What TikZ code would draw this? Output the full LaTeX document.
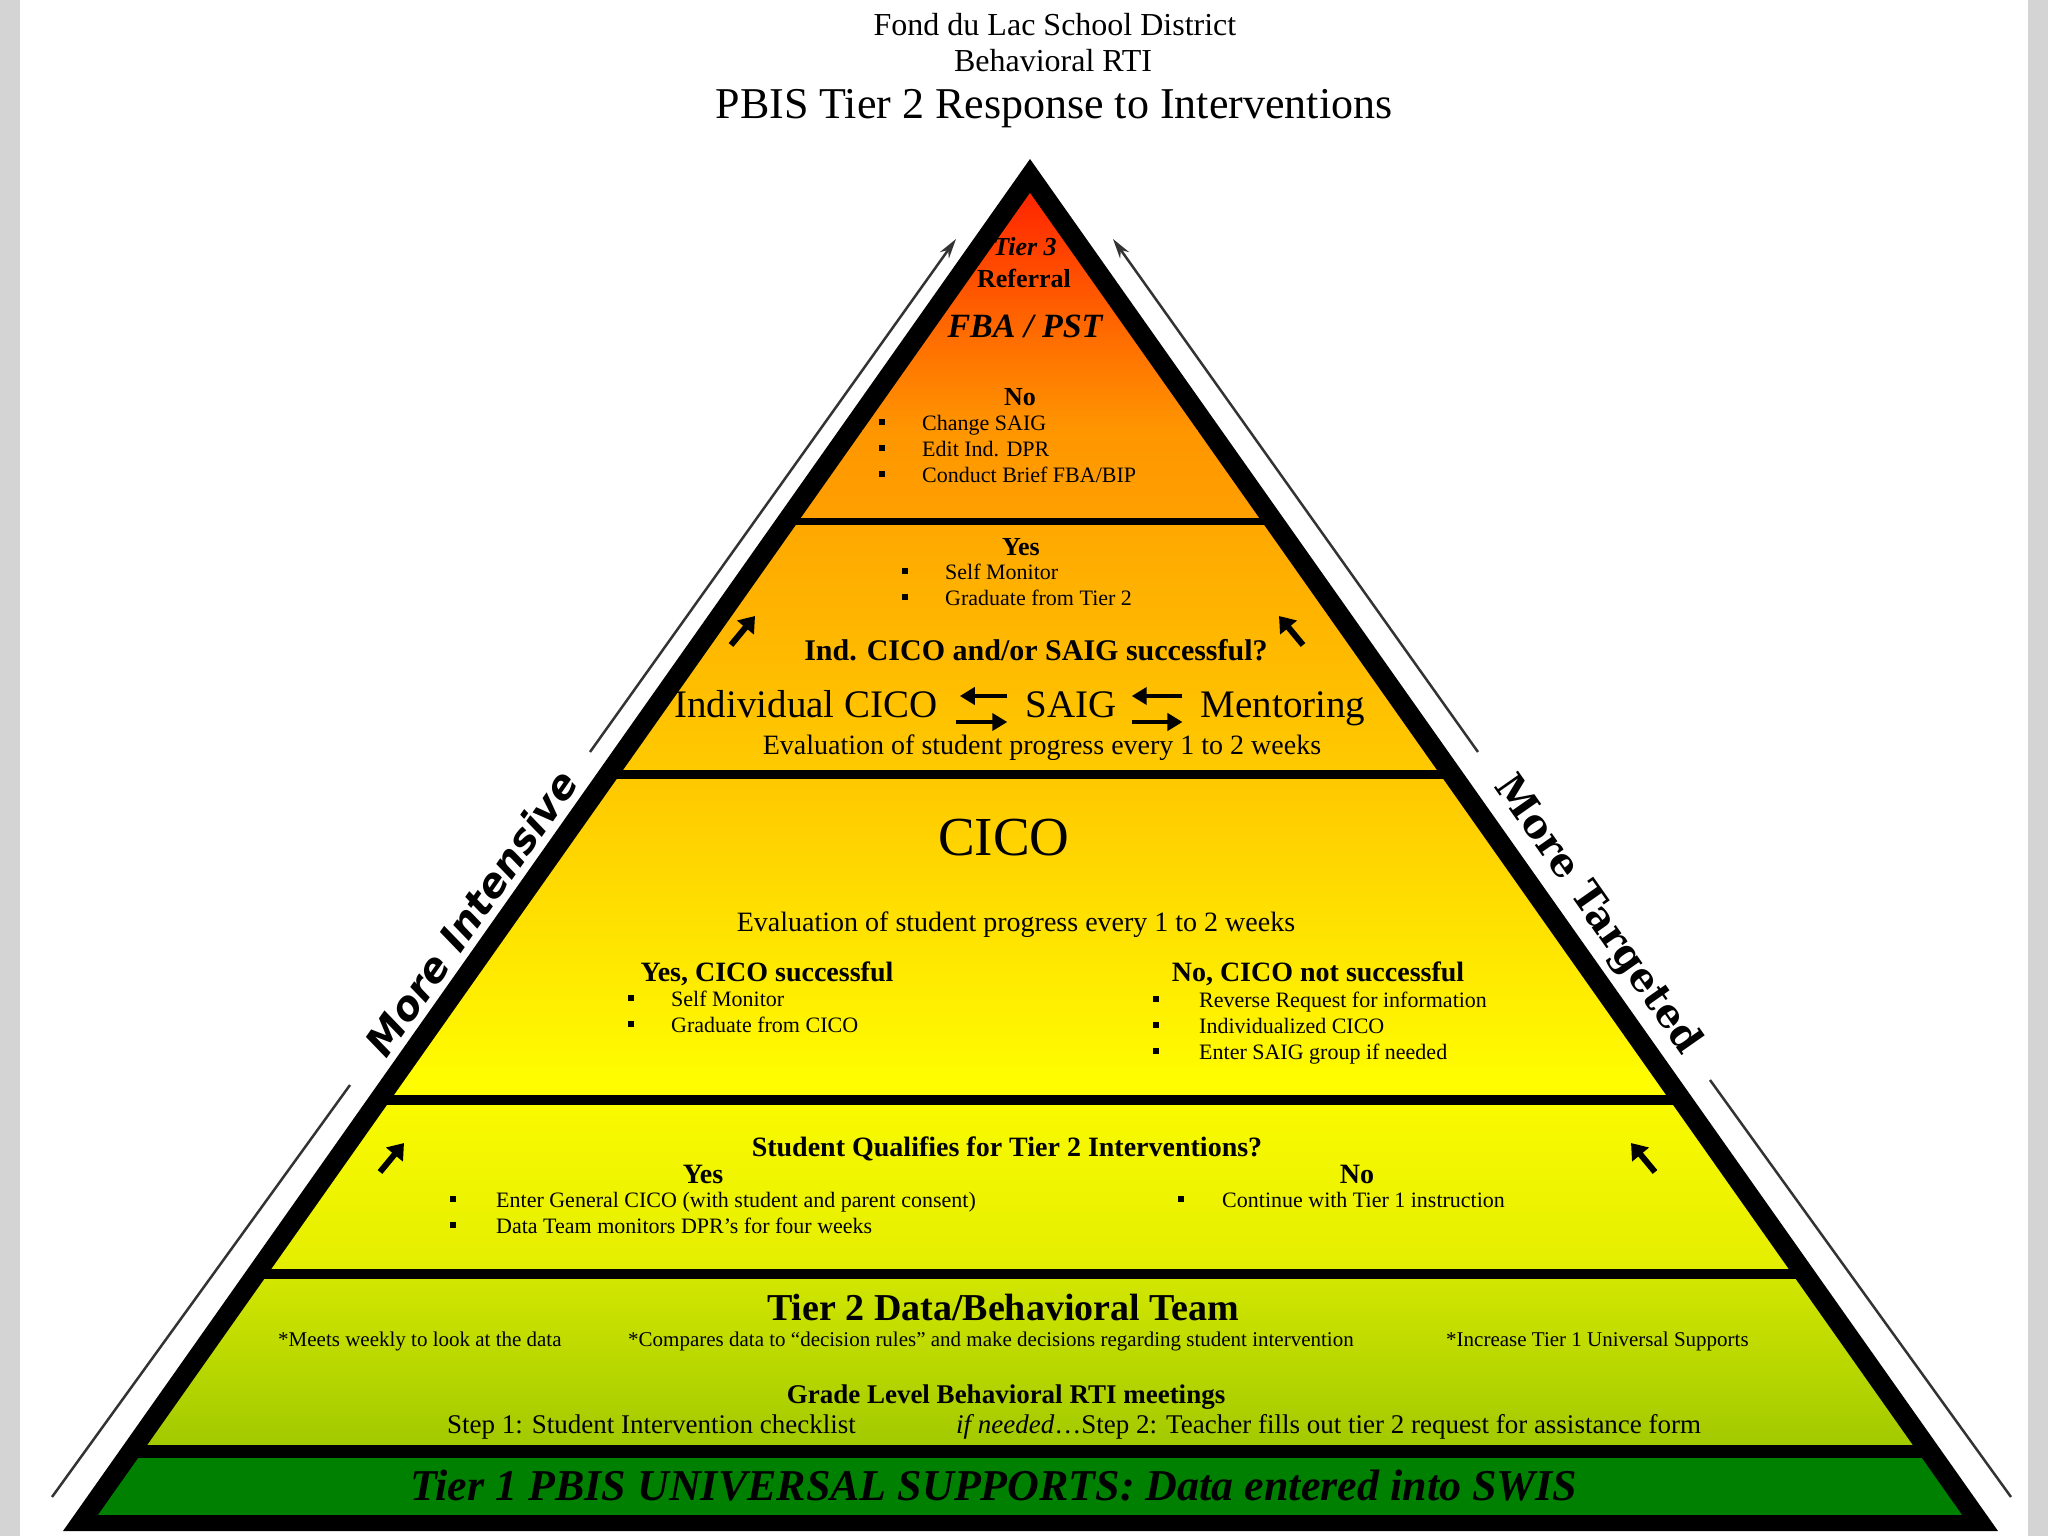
\documentclass[tikz,border=0pt]{standalone}
\usepackage{fontspec}
\setmainfont{Liberation Serif}
\newfontfamily\intensivefont{DejaVu Sans}
\newfontfamily\targetedfont{DejaVu Serif}
\usetikzlibrary{arrows.meta}

\definecolor{redtop}{HTML}{FF1E00}
\definecolor{orngA}{HTML}{FF6A00}
\definecolor{orngB}{HTML}{FF9600}
\definecolor{orngC}{HTML}{FFA000}
\definecolor{bandBtop}{HTML}{FFA800}
\definecolor{bandBbot}{HTML}{FFCA00}
\definecolor{bandCtop}{HTML}{FFC800}
\definecolor{bandCbot}{HTML}{FFFF00}
\definecolor{bandDtop}{HTML}{FAFA00}
\definecolor{bandDbot}{HTML}{E4EE00}
\definecolor{bandEtop}{HTML}{D2E600}
\definecolor{bandEbot}{HTML}{A2CA00}
\definecolor{tierone}{HTML}{008000}
\definecolor{margin}{HTML}{D4D4D4}

\newcommand{\fsz}[2]{\fontsize{#1}{#2}\selectfont}
\newcommand{\sqbul}{\rule[5pt]{6pt}{6pt}}

\begin{document}
\begin{tikzpicture}[x=1pt, y=-1pt,
  txt/.style={inner sep=0pt},
  lst/.style={anchor=west, inner sep=0pt, font=\fsz{22}{26}},
  pairarrow/.style={line width=4pt, -{Triangle[length=15pt,width=17pt]}},
  tinyarrow/.style={line width=6pt, -{Triangle[length=15pt,width=21pt]}},
  sideline/.style={line width=2.5pt, black!80},
  sidearrow/.style={sideline, -{Stealth[length=20pt,width=11pt]}}]

\useasboundingbox (0,0) rectangle (2048,1536);
\fill[margin] (0,0) rectangle (20,1536);
\fill[margin] (2028,0) rectangle (2048,1536);

\fill (1030,159) -- (1998,1531) -- (63,1531) -- cycle;
\begin{scope}
\clip (1030,193) -- (1962,1515) -- (98,1515) -- cycle;
\foreach \ya/\yb/\ca/\cb in {180/330/redtop/orngA, 330/430/orngA/orngB, 430/517/orngB/orngC,
  525/769/bandBtop/bandBbot, 779/1094/bandCtop/bandCbot, 1105/1268/bandDtop/bandDbot,
  1279/1444/bandEtop/bandEbot}
  \shade[top color=\ca, bottom color=\cb] (0,\ya) rectangle (2048,\yb);
\fill[tierone] (0,1458) rectangle (2048,1515);
\end{scope}

\node[txt, font=\fsz{32}{32}] (district) at (1055,25) {Fond du Lac School District};
\node[txt, font=\fsz{32}{32}] (rti) at (1053,61) {Behavioral RTI};
\node[txt, font=\fsz{44}{44}] (title) at (1054,109) {PBIS Tier 2 Response to Interventions};

\node[txt, font=\bfseries\itshape\fsz{26}{26}] (tierthree) at (1025,247) {Tier 3};
\node[txt, font=\bfseries\fsz{26}{26}] (referral) at (1024,278) {Referral};
\node[txt, font=\bfseries\itshape\fsz{34}{34}] (fbapst) at (1025,326) {FBA / PST};
\node[txt, font=\bfseries\fsz{26}{26}] (nothree) at (1020,397) {No};
\node[lst] (nolist) at (879,451) {\begin{tabular}{@{}l@{\hspace{37pt}}l@{}}
  \sqbul & Change SAIG\\ \sqbul & Edit Ind. DPR\\ \sqbul & Conduct Brief FBA/BIP\end{tabular}};

\node[txt, font=\bfseries\fsz{26}{26}] (yestwo) at (1021,547) {Yes};
\node[lst] (yeslist) at (902,587) {\begin{tabular}{@{}l@{\hspace{37pt}}l@{}}
  \sqbul & Self Monitor\\ \sqbul & Graduate from Tier 2\end{tabular}};
\node[txt, font=\bfseries\fsz{30}{30}] (indq) at (1036,650) {Ind. CICO and/or SAIG successful?};
\node[txt, anchor=base, font=\fsz{39}{39}] (indcico) at (806,717) {Individual CICO};
\node[txt, anchor=base, font=\fsz{39}{39}] (saig) at (1071,717) {SAIG};
\node[txt, anchor=base, font=\fsz{39}{39}] (mentor) at (1283,717) {Mentoring};
\node[txt, font=\fsz{28}{28}] (evalone) at (1042,748) {Evaluation of student progress every 1 to 2 weeks};

\draw[pairarrow, shorten <=18pt, shorten >=22pt] ([yshift=21pt]saig.base west) -- ([yshift=21pt]indcico.base east);
\draw[pairarrow, shorten <=18pt, shorten >=18pt] ([yshift=-5pt]indcico.base east) -- ([yshift=-5pt]saig.base west);
\draw[pairarrow, shorten <=18pt, shorten >=15pt] ([yshift=21pt]mentor.base west) -- ([yshift=21pt]saig.base east);
\draw[pairarrow, shorten <=15pt, shorten >=18pt] ([yshift=-5pt]saig.base east) -- ([yshift=-5pt]mentor.base west);

\node[txt, font=\fsz{55}{55}] (cico) at (1004,838) {CICO};
\node[txt, font=\fsz{28}{28}] (evaltwo) at (1016,925) {Evaluation of student progress every 1 to 2 weeks};
\node[txt, font=\bfseries\fsz{28}{28}] (cicoyes) at (767,974) {Yes, CICO successful};
\node[lst] (cicoyeslist) at (628,1014) {\begin{tabular}{@{}l@{\hspace{37pt}}l@{}}
  \sqbul & Self Monitor\\ \sqbul & Graduate from CICO\end{tabular}};
\node[txt, font=\bfseries\fsz{28}{28}] (cicono) at (1318,974) {No, CICO not successful};
\node[lst] (ciconolist) at (1153,1028) {\begin{tabular}{@{}l@{\hspace{40pt}}l@{}}
  \sqbul & Reverse Request for information\\ \sqbul & Individualized CICO\\
  \sqbul & Enter SAIG group if needed\end{tabular}};

\node[txt, font=\bfseries\fsz{28}{28}] (qualq) at (1007,1149) {Student Qualifies for Tier 2 Interventions?};
\node[txt, font=\bfseries\fsz{28}{28}] (qualyes) at (703,1174) {Yes};
\node[txt, font=\bfseries\fsz{28}{28}] (qualno) at (1357,1174) {No};
\node[lst] (qualyeslist) at (450,1215) {\begin{tabular}{@{}l@{\hspace{40pt}}l@{}}
  \sqbul & Enter General CICO (with student and parent consent)\\
  \sqbul & Data Team monitors DPR's for four weeks\end{tabular}};
\node[lst] (qualnolist) at (1178,1202) {\begin{tabular}{@{}l@{\hspace{38pt}}l@{}}
  \sqbul & Continue with Tier 1 instruction\end{tabular}};

\node[txt, font=\bfseries\fsz{38}{38}] (team) at (1003,1307) {Tier 2 Data/Behavioral Team};
\node[txt, anchor=west, font=\fsz{21}{21}] (meets) at (278,1341) {*Meets weekly to look at the data};
\node[txt, anchor=west, font=\fsz{21}{21}] (compares) at (628,1341) {*Compares data to ``decision rules'' and make decisions regarding student intervention};
\node[txt, anchor=west, font=\fsz{21}{21}] (increase) at (1446,1341) {*Increase Tier 1 Universal Supports};
\node[txt, font=\bfseries\fsz{27}{27}] (grade) at (1006,1397) {Grade Level Behavioral RTI meetings};
\node[txt, anchor=west, font=\fsz{27}{27}] (stepone) at (447,1427) {Step 1: Student Intervention checklist};
\node[txt, anchor=west, font=\fsz{27}{27}] (steptwo) at (956,1427) {\textit{if needed}\ldots Step 2: Teacher fills out tier 2 request for assistance form};

\node[txt, font=\bfseries\itshape\fsz{44}{44}] (tierone) at (994,1486) {Tier 1 PBIS UNIVERSAL SUPPORTS: Data entered into SWIS};

\node[txt, rotate=55, font=\intensivefont\bfseries\itshape\fsz{40}{40}] (intensive) at (471,913) {More Intensive};
\node[txt, rotate=-55, font=\targetedfont\bfseries\fsz{40}{40}] (targeted) at (1597,915) {More Targeted};

\coordinate (lfoot) at (52,1497);
\coordinate (lgapa) at (350,1085);
\coordinate (lgapb) at (590,752);
\coordinate (ltip) at (956,239);
\coordinate (rtip) at (1113,239);
\coordinate (rgapa) at (1478,752);
\coordinate (rgapb) at (1710,1080);
\coordinate (rfoot) at (2011,1497);
\draw[sideline] (lfoot) -- (lgapa);
\draw[sidearrow] (lgapb) -- (ltip);
\draw[sidearrow] (rgapa) -- (rtip);
\draw[sideline] (rgapb) -- (rfoot);

\coordinate (aa) at (731,645);
\coordinate (ab) at (755,616);
\coordinate (ba) at (1303,645);
\coordinate (bb) at (1279,616);
\coordinate (ca) at (380,1172);
\coordinate (cb) at (404,1143);
\coordinate (da) at (1655,1172);
\coordinate (db) at (1631,1143);
\draw[tinyarrow] (aa) -- (ab);
\draw[tinyarrow] (ba) -- (bb);
\draw[tinyarrow] (ca) -- (cb);
\draw[tinyarrow] (da) -- (db);

\end{tikzpicture}
\end{document}
